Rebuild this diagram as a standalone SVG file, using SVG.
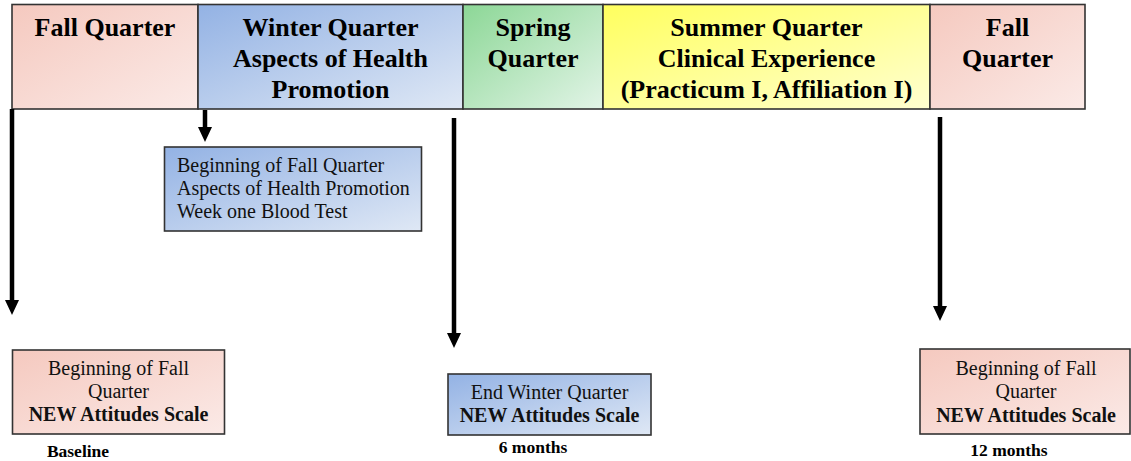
<svg xmlns="http://www.w3.org/2000/svg" width="1131" height="461" viewBox="0 0 1131 461">
<defs>
<linearGradient id="gPink" x1="0" y1="0" x2="1" y2="1"><stop offset="0" stop-color="#f5c9bf"/><stop offset="1" stop-color="#fbeae7"/></linearGradient>
<linearGradient id="gBlue" x1="0" y1="0" x2="1" y2="1"><stop offset="0" stop-color="#93b2e4"/><stop offset="1" stop-color="#dfe8f5"/></linearGradient>
<linearGradient id="gGreen" x1="0" y1="0" x2="1" y2="1"><stop offset="0" stop-color="#8cd796"/><stop offset="1" stop-color="#e2f4e7"/></linearGradient>
<linearGradient id="gYellow" x1="0" y1="0" x2="1" y2="1"><stop offset="0" stop-color="#ffff5e"/><stop offset="1" stop-color="#ffffd0"/></linearGradient>
<marker id="ah" viewBox="0 0 15 14" refX="3" refY="7" markerWidth="15" markerHeight="14" markerUnits="userSpaceOnUse" orient="auto">
<path d="M0,0 L15,7 L0,14 Z" fill="#000"/>
</marker>
</defs>
<style>
.box{stroke:#333;stroke-width:1.6}
.h{font-family:"Liberation Serif","Times New Roman",Times,serif;font-weight:bold;font-size:26px;fill:#000;text-anchor:middle}
.t{font-family:"Liberation Serif","Times New Roman",Times,serif;font-size:20px;fill:#111}
.b{font-weight:bold}
.c{text-anchor:middle}
.lab{font-family:"Liberation Serif","Times New Roman",Times,serif;font-weight:bold;font-size:17.5px;fill:#000;text-anchor:middle}
.arr{stroke:#000;stroke-width:4.5;fill:none}
</style>
<g id="fall1">
<rect class="box" x="12" y="4.5" width="186" height="104.5" fill="url(#gPink)"/>
<text class="h" x="105" y="36">Fall Quarter</text>
</g>
<g id="winter">
<rect class="box" x="198" y="4.5" width="265" height="104.5" fill="url(#gBlue)"/>
<text class="h" x="330.5" y="36">Winter Quarter</text>
<text class="h" x="330.5" y="67">Aspects of Health</text>
<text class="h" x="330.5" y="98">Promotion</text>
</g>
<g id="spring">
<rect class="box" x="463" y="4.5" width="140" height="104.5" fill="url(#gGreen)"/>
<text class="h" x="533" y="36">Spring</text>
<text class="h" x="533" y="67">Quarter</text>
</g>
<g id="summer">
<rect class="box" x="603" y="4.5" width="327" height="104.5" fill="url(#gYellow)"/>
<text class="h" x="766.5" y="36">Summer Quarter</text>
<text class="h" x="766.5" y="67">Clinical Experience</text>
<text class="h" x="766.5" y="98">(Practicum I, Affiliation I)</text>
</g>
<g id="fall2">
<rect class="box" x="930" y="4.5" width="155" height="104.5" fill="url(#gPink)"/>
<text class="h" x="1007.5" y="36">Fall</text>
<text class="h" x="1007.5" y="67">Quarter</text>
</g>
<g id="connectors">
<line class="arr" x1="12" y1="109" x2="12" y2="303" marker-end="url(#ah)"/>
<line class="arr" x1="205" y1="110" x2="205" y2="130" marker-end="url(#ah)"/>
<line class="arr" x1="454" y1="118" x2="454" y2="336" marker-end="url(#ah)"/>
<line class="arr" x1="940" y1="117" x2="940" y2="309" marker-end="url(#ah)"/>
</g>
<g id="bloodtest">
<rect class="box" x="164.5" y="147" width="257" height="84" fill="url(#gBlue)"/>
<text class="t" x="177" y="172">Beginning of Fall Quarter</text>
<text class="t" x="177" y="195">Aspects of Health Promotion</text>
<text class="t" x="177" y="218">Week one Blood Test</text>
</g>
<g id="baseline">
<rect class="box" x="12.5" y="350" width="212" height="84" fill="url(#gPink)"/>
<text class="t c" x="118.5" y="375">Beginning of Fall</text>
<text class="t c" x="118.5" y="398">Quarter</text>
<text class="t c b" x="118.5" y="421">NEW Attitudes Scale</text>
<text class="lab" x="78" y="457">Baseline</text>
</g>
<g id="endwinter">
<rect class="box" x="448" y="374" width="203" height="61" fill="url(#gBlue)"/>
<text class="t c" x="549.5" y="399">End Winter Quarter</text>
<text class="t c b" x="549.5" y="422">NEW Attitudes Scale</text>
<text class="lab" x="533" y="453">6 months</text>
</g>
<g id="fall12">
<rect class="box" x="920" y="349" width="210" height="85" fill="url(#gPink)"/>
<text class="t c" x="1026" y="375">Beginning of Fall</text>
<text class="t c" x="1026" y="398">Quarter</text>
<text class="t c b" x="1026" y="422">NEW Attitudes Scale</text>
<text class="lab" x="1009" y="456">12 months</text>
</g>
</svg>
